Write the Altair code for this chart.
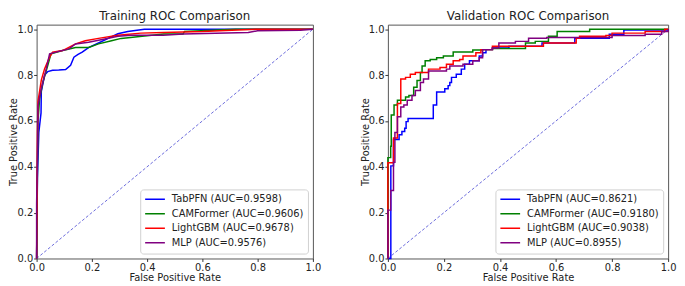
import altair as alt
import pandas as pd

models = ["TabPFN", "CAMFormer", "LightGBM", "MLP"]
colors = ["#0000ff", "#008000", "#ff0000", "#800080"]
train_auc = ["0.9598", "0.9606", "0.9678", "0.9576"]
val_auc = ["0.8621", "0.9180", "0.9038", "0.8955"]
ticks = [0.0, 0.2, 0.4, 0.6, 0.8, 1.0]

# ---- Training ROC curves ----
tr_tabpfn_fpr = [0, 0.003, 0.008, 0.016, 0.017, 0.029, 0.040, 0.058, 0.080, 0.105, 0.123, 0.135, 0.150, 0.165, 0.188, 0.224, 0.259, 0.294, 0.330, 0.390, 1.0]
tr_tabpfn_tpr = [0, 0.35, 0.55, 0.635, 0.728, 0.800, 0.815, 0.821, 0.822, 0.824, 0.843, 0.878, 0.890, 0.900, 0.920, 0.940, 0.960, 0.980, 0.990, 1.0, 1.0]

tr_cam_fpr = [0, 0.003, 0.005, 0.011, 0.023, 0.040, 0.052, 0.094, 0.141, 0.188, 0.224, 0.271, 0.306, 0.365, 0.46, 0.53, 0.535, 0.72, 1.0]
tr_cam_tpr = [0, 0.39, 0.60, 0.70, 0.77, 0.84, 0.893, 0.907, 0.92, 0.92, 0.936, 0.95, 0.96, 0.967, 0.979, 0.979, 0.99, 1.0, 1.0]

tr_lgbm_fpr = [0, 0.003, 0.005, 0.017, 0.029, 0.047, 0.058, 0.094, 0.141, 0.176, 0.224, 0.294, 0.377, 0.46, 0.60, 0.706, 0.80, 1.0]
tr_lgbm_tpr = [0, 0.55, 0.685, 0.778, 0.828, 0.878, 0.90, 0.907, 0.936, 0.95, 0.96, 0.974, 0.983, 0.986, 0.99, 0.996, 1.0, 1.0]

tr_mlp_fpr = [0, 0.0, 0.003, 0.005, 0.017, 0.035, 0.047, 0.070, 0.117, 0.141, 0.188, 0.247, 0.294, 0.342, 0.458, 0.53, 0.766, 0.80, 0.955, 1.0]
tr_mlp_tpr = [0, 0.24, 0.45, 0.665, 0.742, 0.828, 0.893, 0.90, 0.914, 0.936, 0.943, 0.957, 0.969, 0.974, 0.974, 0.979, 0.986, 0.993, 0.996, 1.0]

# ---- Validation ROC curves (staircase corners) ----
va_tabpfn_fpr = [0, 0.0105, 0.02, 0.04, 0.05, 0.06, 0.065, 0.072, 0.162, 0.174, 0.203, 0.215, 0.221, 0.227, 0.244, 0.262, 0.274, 0.291, 0.326, 0.338, 0.35, 0.373, 0.40, 0.432, 0.55, 0.667, 0.79, 0.842, 1.0]
va_tabpfn_tpr = [0, 0.404, 0.519, 0.54, 0.554, 0.568, 0.597, 0.611, 0.669, 0.726, 0.74, 0.754, 0.768, 0.79, 0.804, 0.826, 0.847, 0.862, 0.883, 0.897, 0.911, 0.918, 0.918, 0.926, 0.94, 0.961, 0.978, 0.997, 1.0]

va_cam_fpr = [0, 0.0, 0.01, 0.012, 0.022, 0.034, 0.063, 0.075, 0.092, 0.104, 0.116, 0.122, 0.133, 0.151, 0.174, 0.198, 0.233, 0.303, 0.338, 0.373, 0.491, 0.526, 0.573, 0.604, 0.72, 1.0]
va_cam_tpr = [0, 0.44, 0.49, 0.626, 0.669, 0.69, 0.704, 0.711, 0.747, 0.776, 0.811, 0.84, 0.862, 0.868, 0.876, 0.883, 0.901, 0.909, 0.911, 0.916, 0.94, 0.947, 0.969, 0.99, 1.0, 1.0]

va_lgbm_fpr = [0, 0.0, 0.02, 0.034, 0.046, 0.063, 0.08, 0.098, 0.145, 0.186, 0.209, 0.233, 0.256, 0.268, 0.314, 0.332, 0.373, 0.555, 0.672, 0.684, 0.778, 0.80, 0.918, 0.988, 1.0]
va_lgbm_tpr = [0, 0.418, 0.526, 0.676, 0.783, 0.79, 0.804, 0.811, 0.826, 0.833, 0.847, 0.862, 0.868, 0.883, 0.897, 0.911, 0.926, 0.94, 0.961, 0.969, 0.973, 0.983, 0.99, 1.0, 1.0]

va_mlp_fpr = [0, 0.0, 0.01, 0.02, 0.025, 0.034, 0.046, 0.057, 0.069, 0.086, 0.098, 0.116, 0.127, 0.145, 0.209, 0.221, 0.268, 0.303, 0.326, 0.338, 0.373, 0.396, 0.455, 0.502, 0.567, 0.80, 0.918, 0.977, 1.0]
va_mlp_tpr = [0, 0.211, 0.297, 0.42, 0.55, 0.618, 0.661, 0.669, 0.69, 0.711, 0.733, 0.768, 0.783, 0.818, 0.826, 0.84, 0.847, 0.862, 0.876, 0.911, 0.918, 0.94, 0.947, 0.961, 0.964, 0.973, 0.978, 0.99, 1.0]

diag_x = [0.0, 1.0]
diag_y = [0.0, 1.0]

FONT = "DejaVu Sans"


def make_df(curves, aucs):
    rows = []
    for m, auc, (fx, ty) in zip(models, aucs, curves):
        lab = f"{m} (AUC={auc})"
        for i, (a, b) in enumerate(zip(fx, ty)):
            rows.append({"model": m, "label": lab, "i": i, "fpr": a, "tpr": b})
    return pd.DataFrame(rows)


train_df = make_df([(tr_tabpfn_fpr, tr_tabpfn_tpr), (tr_cam_fpr, tr_cam_tpr),
                    (tr_lgbm_fpr, tr_lgbm_tpr), (tr_mlp_fpr, tr_mlp_tpr)], train_auc)
val_df = make_df([(va_tabpfn_fpr, va_tabpfn_tpr), (va_cam_fpr, va_cam_tpr),
                  (va_lgbm_fpr, va_lgbm_tpr), (va_mlp_fpr, va_mlp_tpr)], val_auc)
diag_df = pd.DataFrame({"fpr": diag_x, "tpr": diag_y})


def axes():
    ax = alt.Axis(values=ticks, format=".1f", title="False Positive Rate", grid=False,
                  domain=False, tickSize=3, tickColor="#333", labelPadding=1,
                  titlePadding=0, labelFontSize=10, titleFontSize=10,
                  titleFontWeight="normal", labelFlush=False, labelOverlap=False,
                  labelColor="#222", titleColor="#222", labelFont=FONT, titleFont=FONT)
    ay = alt.Axis(values=ticks, format=".1f", title="True Positive Rate", grid=False,
                  domain=False, tickSize=3, tickColor="#333", labelPadding=1,
                  titlePadding=-2, labelFontSize=10, titleFontSize=10,
                  titleFontWeight="normal", labelFlush=False, labelOverlap=False,
                  labelColor="#222", titleColor="#222", labelFont=FONT, titleFont=FONT)
    return ax, ay


def panel(df, aucs, title, interp, width):
    ax, ay = axes()
    labels = [f"{m} (AUC={a})" for m, a in zip(models, aucs)]
    x = alt.X("fpr:Q", scale=alt.Scale(domain=[0, 1], nice=False, zero=False), axis=ax)
    y = alt.Y("tpr:Q", scale=alt.Scale(domain=[0, 1.02], nice=False, zero=False), axis=ay)
    color = alt.Color("label:N", scale=alt.Scale(domain=labels, range=colors),
                      legend=alt.Legend(title=None, orient="bottom-right", offset=5,
                                        symbolType="stroke", symbolSize=400,
                                        symbolStrokeWidth=1.5, clipHeight=12,
                                        rowPadding=2.7, labelFontSize=10, labelOffset=6,
                                        padding=4, strokeColor="#d0d0d0", fillColor="white",
                                        cornerRadius=3, labelLimit=400, labelFont=FONT,
                                        labelColor="#222"))
    diag = alt.Chart(diag_df).mark_line(color="#4646d2", strokeWidth=0.8,
                                        strokeDash=[3, 2]).encode(x=x, y=y)
    layers = [diag]
    for m in models:
        sub = df[df["model"] == m]
        layers.append(alt.Chart(sub).mark_line(interpolate=interp, strokeWidth=1.5).encode(
            x=x, y=y, color=color, order=alt.Order("i:Q")))
    return alt.layer(*layers).properties(
        width=width, height=237,
        title=alt.TitleParams(title, fontSize=12, fontWeight="normal", offset=1,
                              font=FONT, color="#222"))


left = panel(train_df, train_auc, "Training ROC Comparison", "linear", 280)
right = panel(val_df, val_auc, "Validation ROC Comparison", "step-after", 284)

chart = alt.hconcat(left, right, spacing=76, bounds="flush").resolve_scale(
    color="independent").properties(
    padding={"left": 0, "top": 0, "right": 0, "bottom": 0}).configure(
    font=FONT).configure_view(stroke="#555", strokeWidth=1)

chart.save("out.html", embed_options={"renderer": "svg", "actions": False})
